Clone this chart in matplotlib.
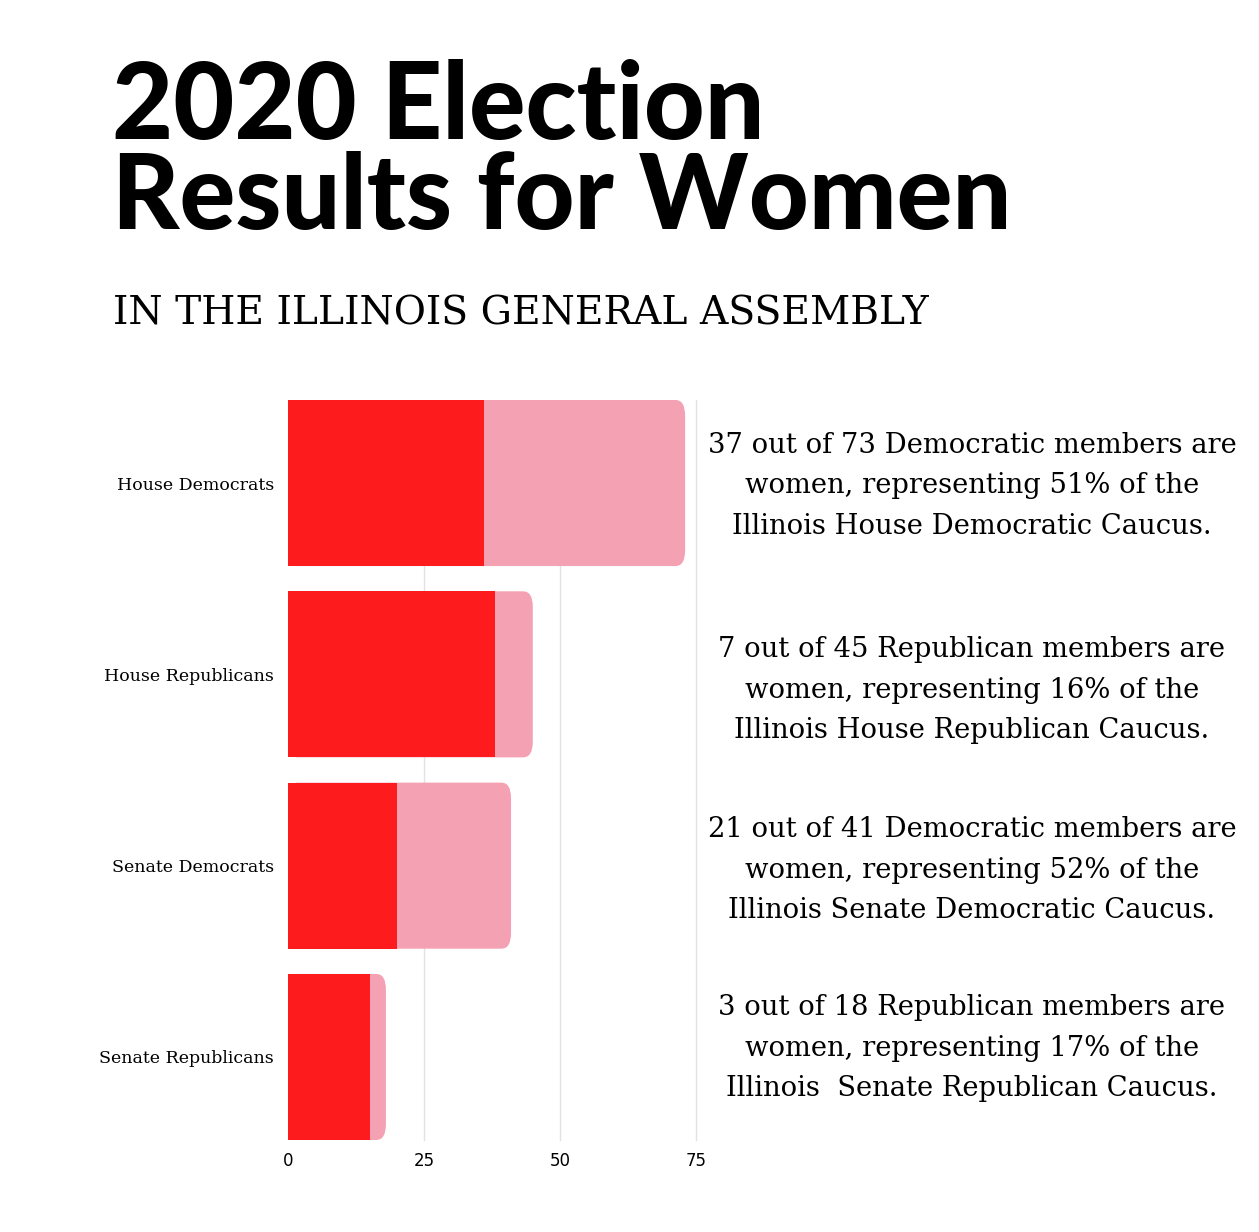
import matplotlib.pyplot as plt
import numpy as np
from matplotlib.patches import FancyBboxPatch

groups = ["House Democrats", "House Republicans", "Senate Democrats", "Senate Republicans"]
men = [36, 38, 20, 15]
women = [37, 7, 21, 3]
totals = [a + b for a, b in zip(men, women)]
xticks = [0, 25, 50, 75]
notes = [
    "37 out of 73 Democratic members are\nwomen, representing 51% of the\nIllinois House Democratic Caucus.",
    "7 out of 45 Republican members are\nwomen, representing 16% of the\nIllinois House Republican Caucus.",
    "21 out of 41 Democratic members are\nwomen, representing 52% of the\nIllinois Senate Democratic Caucus.",
    "3 out of 18 Republican members are\nwomen, representing 17% of the\nIllinois  Senate Republican Caucus.",
]

red = "#fe1b1d"
pink = "#f4a2b3"
W, H = 1259, 1232

fig = plt.figure(figsize=(W / 100, H / 100), dpi=100)
fig.patch.set_facecolor("white")

# title block
fig.text(112 / W, 1 - 108 / H, "2020 Election", fontsize=76, fontweight="black",
         family="Lato", va="center", ha="left")
fig.text(112 / W, 1 - 199 / H, "Results for Women", fontsize=75, fontweight="black",
         family="Lato", va="center", ha="left")
fig.text(113 / W, 1 - 314 / H, "IN THE ILLINOIS GENERAL ASSEMBLY", fontsize=28.3,
         family="DejaVu Serif", va="center", ha="left")

ax = fig.add_axes([288 / W, 1 - 1140 / H, 408 / W, 740 / H])
y = np.arange(len(groups))
bh = 0.868
for i in range(len(groups)):
    # pink total bar with rounded right end, red part drawn on top
    box = FancyBboxPatch((0, y[i] - bh / 2), totals[i], bh,
                         boxstyle="round,pad=0,rounding_size=1.8",
                         mutation_aspect=0.045, fc=pink, ec="none", zorder=2)
    ax.add_patch(box)
ax.barh(y, men, height=bh, color=red, zorder=3)

ax.set_xlim(0, 75)
ax.set_ylim(3 + bh / 2, -bh / 2)
ax.set_xticks(xticks)
ax.set_xticklabels([str(t) for t in xticks], family="DejaVu Sans", fontsize=12)
ax.set_yticks(y)
ax.set_yticklabels(groups, family="DejaVu Serif", fontsize=12.5)
ax.tick_params(axis="x", length=0, pad=9)
ax.tick_params(axis="y", length=0, pad=10)
for s in ax.spines.values():
    s.set_visible(False)
for t in xticks[1:]:
    ax.axvline(t, color="#e2e2e2", linewidth=1, zorder=0, clip_on=False)

centers = [486, 690, 870, 1048]
for c, t in zip(centers, notes):
    fig.text(972 / W, 1 - c / H, t, fontsize=19.7, family="DejaVu Serif",
             ha="center", va="center", linespacing=1.66, color="black")

fig.savefig("out.png", dpi=100, facecolor="white")
